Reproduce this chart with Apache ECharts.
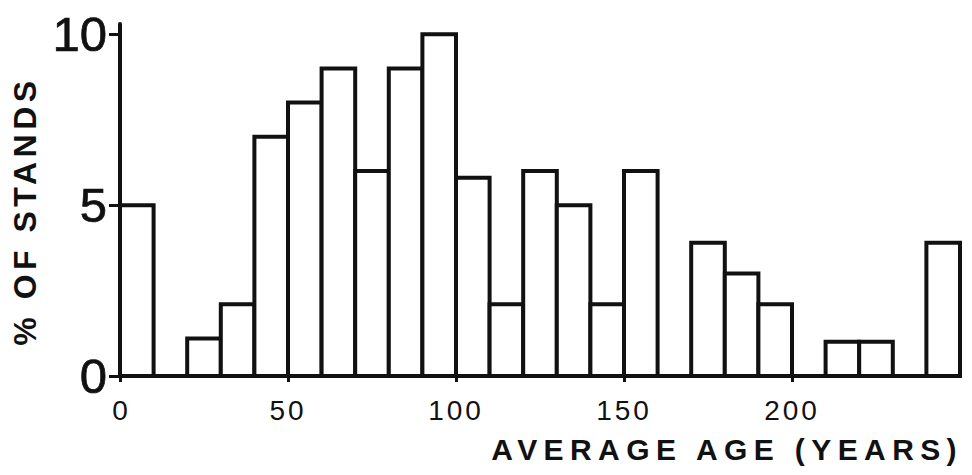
<!DOCTYPE html>
<html>
<head>
<meta charset="utf-8">
<script src="https://cdn.jsdelivr.net/npm/echarts@6/dist/echarts.min.js"></script>
<style>
  html, body { margin: 0; padding: 0; background: #fff; }
  #chart { width: 972px; height: 475px; }
</style>
</head>
<body>
<div id="chart"></div>
<script>
// ---- data ----
const binStarts = [0, 10, 20, 30, 40, 50, 60, 70, 80, 90, 100, 110, 120, 130, 140, 150, 160, 170, 180, 190, 200, 210, 220, 230, 240];
const binWidth = 10;
const percentOfStands = [5, 0, 1.1, 2.1, 7, 8, 9, 6, 9, 10, 5.8, 2.1, 6, 5, 2.1, 6, 0, 3.9, 3, 2.1, 0, 1, 1, 0, 3.9];
const xTickValues = [0, 50, 100, 150, 200];
const yTickValues = [0, 5, 10];
const xTitle = 'AVERAGE AGE (YEARS)';
const yTitle = '% OF STANDS';

const ink = '#111';
const font = '"Liberation Sans", Arial, Helvetica, sans-serif';

const chart = echarts.init(document.getElementById('chart'), null, { renderer: 'svg' });

const option = {
  animation: false,
  backgroundColor: '#fff',
  grid: { left: 120, right: 12, top: 24, bottom: 99 },
  xAxis: {
    type: 'value',
    min: 0,
    max: 250,
    splitLine: { show: false },
    axisLine: { show: true, onZero: false, lineStyle: { color: ink, width: 4 } },
    axisTick: { show: true, customValues: xTickValues, length: 6, lineStyle: { color: ink, width: 3 } },
    axisLabel: { customValues: xTickValues, margin: 20, fontSize: 28, color: ink, fontFamily: font },
    name: xTitle,
    nameLocation: 'end',
    nameGap: 3,
    nameTextStyle: { align: 'right', verticalAlign: 'top', padding: [58, 0, 0, 0], fontSize: 30, fontWeight: 'bold', color: ink, fontFamily: font }
  },
  yAxis: {
    type: 'value',
    min: 0,
    max: 10.3,
    splitLine: { show: false },
    axisLine: { show: true, lineStyle: { color: ink, width: 4 } },
    axisTick: { show: true, customValues: yTickValues, length: 11, lineStyle: { color: ink, width: 3 } },
    axisLabel: { customValues: yTickValues, margin: 13, fontSize: 49, color: ink, fontFamily: font, textBorderColor: ink, textBorderWidth: 0.7 },
    name: yTitle,
    nameLocation: 'middle',
    nameRotate: 90,
    nameGap: 77,
    nameTextStyle: { fontSize: 32, fontWeight: 'bold', color: ink, fontFamily: font, padding: [0, 22, 0, 0] }
  },
  series: [{
    type: 'custom',
    data: binStarts.map((s, i) => [s, s + binWidth, percentOfStands[i]]),
    encode: { x: [0, 1], y: 2 },
    renderItem: function (params, api) {
      const x0 = api.value(0), x1 = api.value(1), v = api.value(2);
      if (!v) return null;
      const p0 = api.coord([x0, 0]);
      const p1 = api.coord([x1, v]);
      return {
        type: 'rect',
        shape: { x: p0[0], y: p1[1], width: p1[0] - p0[0], height: p0[1] - p1[1] },
        style: { fill: '#fff', stroke: ink, lineWidth: 4 }
      };
    }
  }]
};
chart.setOption(option);

// widen letter spacing of the typewriter-style labels, as in the original figure
function applySpacing() {
  const texts = document.querySelectorAll('#chart text');
  texts.forEach(t => {
    const s = t.textContent;
    const st = t.getAttribute('style') || '';
    if (s === xTitle) t.setAttribute('letter-spacing', '6.4');
    else if (s === yTitle) t.setAttribute('letter-spacing', '4.5');
    else if (['50', '100', '150', '200'].includes(s) && st.indexOf('49px') === -1) t.setAttribute('letter-spacing', '3');
  });
}
applySpacing();
chart.on('finished', applySpacing);
requestAnimationFrame(applySpacing);
setTimeout(applySpacing, 30);
</script>
</body>
</html>
